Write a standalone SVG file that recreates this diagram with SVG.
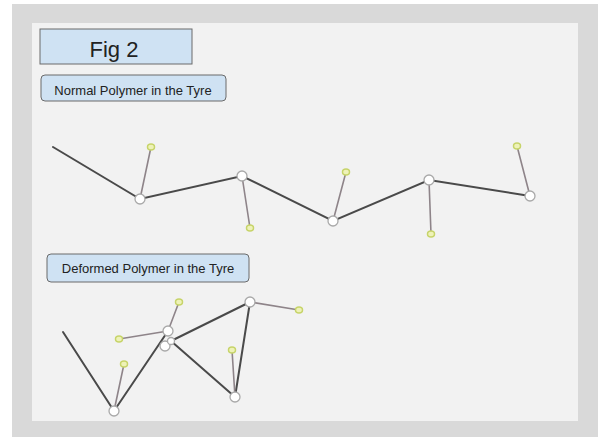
<svg xmlns="http://www.w3.org/2000/svg" width="601" height="437" viewBox="0 0 601 437">
  <style>
    .label { fill: #cfe2f3; stroke: #6b6b6b; stroke-width: 1; }
    .txt { font-family: "Liberation Sans", Arial, sans-serif; fill: #222; text-anchor: middle; }
    .bb { stroke: #4a4a4a; stroke-width: 2; fill: none; stroke-linecap: round; }
    .side { stroke: #8e8489; stroke-width: 1.6; fill: none; stroke-linecap: round; }
    .node { fill: #ffffff; stroke: #a9a9a9; stroke-width: 1.3; }
    .end { fill: #eef2b8; stroke: #c7d46a; stroke-width: 1.5; }
  </style>

  <!-- frame -->
  <rect x="0" y="0" width="601" height="437" fill="#ffffff"/>
  <rect x="12" y="4" width="586" height="433" fill="#d9d9d9"/>
  <rect x="32" y="23" width="546" height="398" fill="#f2f2f2"/>

  <!-- titles -->
  <g id="title">
    <rect class="label" x="40" y="29" width="152" height="35"/>
    <text class="txt" x="114" y="57" font-size="22">Fig 2</text>
  </g>
  <g id="normal-label">
    <rect class="label" x="41" y="75" width="185" height="26" rx="4"/>
    <text class="txt" x="133" y="94.5" font-size="13">Normal Polymer in the Tyre</text>
  </g>
  <g id="deformed-label">
    <rect class="label" x="47" y="254" width="202" height="28" rx="4"/>
    <text class="txt" x="148" y="273" font-size="13">Deformed Polymer in the Tyre</text>
  </g>

  <!-- connectors -->
  <g id="connectors">
    <!-- normal chain backbone -->
    <polyline class="bb" points="53,147 140,199 242,176 333,221 429,180 530,196"/>
    <!-- normal chain side groups -->
    <line class="side" x1="140" y1="199" x2="151" y2="147" stroke="#a4848f"/>
    <line class="side" x1="242" y1="176" x2="250" y2="228"/>
    <line class="side" x1="333" y1="221" x2="346" y2="172"/>
    <line class="side" x1="429" y1="180" x2="431" y2="234"/>
    <line class="side" x1="530" y1="196" x2="517" y2="146"/>

    <!-- deformed chain backbone -->
    <polyline class="bb" points="63,332 114,411 168,331"/>
    <line class="bb" x1="171" y1="341" x2="250" y2="302"/>
    <line class="bb" x1="171" y1="341" x2="235" y2="397"/>
    <line class="bb" x1="235" y1="397" x2="250" y2="302"/>
    <!-- deformed chain side groups -->
    <line class="side" x1="114" y1="411" x2="124" y2="364" stroke="#a4848f"/>
    <line class="side" x1="168" y1="331" x2="179" y2="302"/>
    <line class="side" x1="168" y1="331" x2="119" y2="339"/>
    <line class="side" x1="250" y1="302" x2="299" y2="310"/>
    <line class="side" x1="235" y1="397" x2="232" y2="350"/>
  </g>

  <!-- normal chain atoms -->
  <g id="n1"><circle class="node" cx="140" cy="199" r="5"/></g>
  <g id="n2"><circle class="node" cx="242" cy="176" r="5"/></g>
  <g id="n3"><circle class="node" cx="333" cy="221" r="5"/></g>
  <g id="n4"><circle class="node" cx="429" cy="180" r="5"/></g>
  <g id="n5"><circle class="node" cx="530" cy="196" r="5"/></g>
  <g id="n1-end"><ellipse class="end" cx="151" cy="147" rx="3.5" ry="3"/></g>
  <g id="n2-end"><ellipse class="end" cx="250" cy="228" rx="3.5" ry="3"/></g>
  <g id="n3-end"><ellipse class="end" cx="346" cy="172" rx="3.5" ry="3"/></g>
  <g id="n4-end"><ellipse class="end" cx="431" cy="234" rx="3.5" ry="3"/></g>
  <g id="n5-end"><ellipse class="end" cx="517" cy="146" rx="3.5" ry="3"/></g>

  <!-- deformed chain atoms -->
  <g id="d1"><circle class="node" cx="114" cy="411" r="5"/></g>
  <g id="d2"><circle class="node" cx="168" cy="331" r="5"/></g>
  <g id="d3"><circle class="node" cx="165" cy="346" r="5"/></g>
  <g id="d4"><circle class="node" cx="171" cy="341" r="3.5" fill="none"/></g>
  <g id="d5"><circle class="node" cx="250" cy="302" r="5"/></g>
  <g id="d6"><circle class="node" cx="235" cy="397" r="5"/></g>
  <g id="d1-end"><ellipse class="end" cx="124" cy="364" rx="3.5" ry="3"/></g>
  <g id="d2-end-a"><ellipse class="end" cx="179" cy="302" rx="3.5" ry="3"/></g>
  <g id="d2-end-b"><ellipse class="end" cx="119" cy="339" rx="3.5" ry="3"/></g>
  <g id="d5-end"><ellipse class="end" cx="299" cy="310" rx="3.5" ry="3"/></g>
  <g id="d6-end"><ellipse class="end" cx="232" cy="350" rx="3.5" ry="3"/></g>
</svg>
